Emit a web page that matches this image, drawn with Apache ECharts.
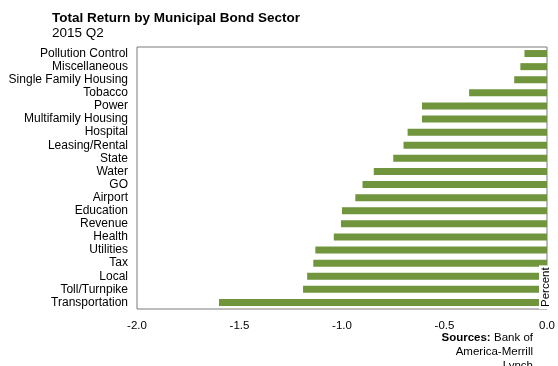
<!DOCTYPE html>
<html>
<head>
<meta charset="utf-8">
<script src="https://cdn.jsdelivr.net/npm/echarts@6/dist/echarts.min.js"></script>
<style>
  html, body { margin: 0; padding: 0; background: #fff; }
  #chart { width: 558px; height: 366px; }
</style>
</head>
<body>
<div id="chart"></div>
<script>
// sectors, top to bottom
const sectors = [
    'Pollution Control', 'Miscellaneous', 'Single Family Housing', 'Tobacco', 'Power',
    'Multifamily Housing', 'Hospital', 'Leasing/Rental', 'State', 'Water',
    'GO', 'Airport', 'Education', 'Revenue', 'Health',
    'Utilities', 'Tax', 'Local', 'Toll/Turnpike', 'Transportation'
]
const returns = [
    -0.11, -0.13, -0.16, -0.38, -0.61,
    -0.61, -0.68, -0.70, -0.75, -0.845,
    -0.90, -0.935, -1.00, -1.005, -1.04,
    -1.13, -1.14, -1.17, -1.19, -1.60
]
const xTicks = [-2.0, -1.5, -1.0, -0.5, 0.0]

const font = 'Arial, "Liberation Sans", sans-serif'
const chart = echarts.init(document.getElementById('chart'))

const option = {
    animation: false,
    textStyle: { fontFamily: font },
    title: {
        text: 'Total Return by Municipal Bond Sector',
        subtext: '2015 Q2',
        left: 47,
        top: 6,
        itemGap: 1,
        textStyle: { fontSize: 13.5, fontWeight: 'bold', color: '#000', fontFamily: font },
        subtextStyle: { fontSize: 13.5, color: '#000', fontFamily: font }
    },
    grid: {
        left: 137,
        right: 10,
        top: 47,
        bottom: 57,
        show: true,
        borderColor: '#7a7a7a',
        borderWidth: 1
    },
    xAxis: {
        type: 'value',
        min: xTicks[0],
        max: xTicks[xTicks.length - 1],
        interval: 0.5,
        axisLine: { show: false },
        axisTick: { show: false },
        splitLine: { show: false },
        axisLabel: {
            color: '#000',
            fontSize: 11.5,
            margin: 11,
            formatter: v => v.toFixed(1)
        }
    },
    yAxis: {
        type: 'category',
        data: sectors,
        inverse: true,
        axisLine: { show: false },
        axisTick: { show: false },
        axisLabel: { color: '#000', fontSize: 12, margin: 9, interval: 0 }
    },
    series: [{
        type: 'bar',
        data: returns,
        barWidth: 7,
        itemStyle: { color: '#70953c' }
    }],
    graphic: [
        {
            type: 'text',
            x: 539,
            y: 309,
            rotation: Math.PI / 2,
            z: 100,
            style: {
                text: 'Percent',
                fontSize: 11.5,
                fontFamily: font,
                fill: '#000',
                align: 'left',
                verticalAlign: 'top',
                backgroundColor: '#fff',
                padding: [1, 2, 1, 2]
            }
        },
        {
            type: 'text',
            x: 533,
            y: 338,
            style: {
                rich: {
                    b: { fontWeight: 'bold', fontSize: 11.5, fontFamily: font, fill: '#000' },
                    n: { fontSize: 11.5, fontFamily: font, fill: '#000' }
                },
                text: '{b|Sources:} {n|Bank of}',
                align: 'right',
                verticalAlign: 'middle'
            }
        },
        {
            type: 'text',
            x: 533,
            y: 352,
            style: {
                text: 'America-Merrill',
                fontSize: 11.5,
                fontFamily: font,
                fill: '#000',
                align: 'right',
                verticalAlign: 'middle'
            }
        },
        {
            type: 'text',
            x: 533,
            y: 366,
            style: {
                text: 'Lynch',
                fontSize: 11.5,
                fontFamily: font,
                fill: '#000',
                align: 'right',
                verticalAlign: 'middle'
            }
        }
    ]
}

chart.setOption(option)
</script>
</body>
</html>
